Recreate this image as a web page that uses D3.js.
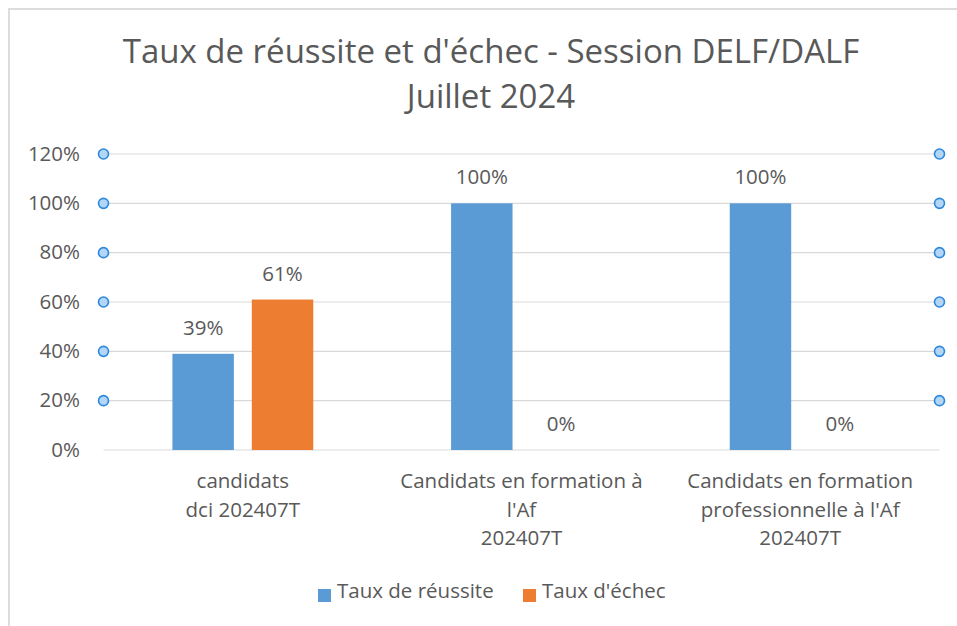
<!DOCTYPE html>
<html>
<head>
    <title>Taux de réussite et d'échec</title>
    <script src="https://d3js.org/d3.v7.min.js"></script>
    <style>
        body {
            margin: 0;
            background: #fff;
            font-family: "Open Sans", Arial, sans-serif;
        }
        .grid line {
            stroke: #d9d9d9;
            stroke-width: 1.2px;
        }
        .handle {
            fill: #b4d6f6;
            stroke: #2c87de;
            stroke-width: 1.6px;
        }
        text {
            fill: #595959;
        }
    </style>
</head>
<body>
    <div id="chart"></div>
    <script>
        // data
        const categories = ["g1", "g2", "g3"];
        const categoryLines = [
            ["candidats", "dci 202407T"],
            ["Candidats en formation à", "l'Af", "202407T"],
            ["Candidats en formation", "professionnelle à l'Af", "202407T"]
        ];
        const seriesNames = ["Taux de réussite", "Taux d'échec"];
        const seriesColors = ["#5b9bd5", "#ed7d31"];
        const reussite = [0.39, 1.00, 1.00];
        const echec = [0.61, 0.00, 0.00];
        const yTicks = [0, 0.2, 0.4, 0.6, 0.8, 1.0, 1.2];

        const width = 957, height = 626;
        const fontSize = "20.5px";

        const svg = d3.select("#chart")
            .append("svg")
            .attr("width", width)
            .attr("height", height);

        // outer frame of the chart object
        svg.append("rect")
            .attr("x", 9).attr("y", 9)
            .attr("width", 960).attr("height", 630)
            .attr("fill", "none")
            .attr("stroke", "#dcdcdc")
            .attr("stroke-width", 2);

        // title
        const title = svg.append("text")
            .attr("text-anchor", "middle")
            .style("font-size", "33px");
        title.append("tspan").attr("x", 491).attr("y", 63)
            .text("Taux de réussite et d'échec - Session DELF/DALF");
        title.append("tspan").attr("x", 491).attr("y", 108)
            .text("Juillet 2024");

        const plot = { left: 103.5, right: 939.5, top: 154, bottom: 450 };

        const x0 = d3.scaleBand()
            .domain(categories)
            .range([plot.left, plot.right]);

        const x1 = d3.scaleBand()
            .domain(seriesNames)
            .range([0, x0.bandwidth()])
            .paddingInner(0.226)
            .paddingOuter(0.868);

        const y = d3.scaleLinear()
            .domain([0, 1.2])
            .range([plot.bottom, plot.top]);

        // gridlines
        svg.append("g")
            .attr("class", "grid")
            .selectAll("line")
            .data(yTicks)
            .join("line")
            .attr("x1", plot.left)
            .attr("x2", plot.right)
            .attr("y1", d => y(d))
            .attr("y2", d => y(d));

        // y axis labels
        svg.append("g")
            .selectAll("text")
            .data(yTicks)
            .join("text")
            .attr("x", 80)
            .attr("y", d => y(d))
            .attr("dy", "0.33em")
            .attr("text-anchor", "end")
            .style("font-size", fontSize)
            .text(d => d3.format(".0%")(d));

        // bars
        const rows = categories.map((c, i) => ({
            cat: c,
            values: [
                { name: seriesNames[0], value: reussite[i], color: seriesColors[0] },
                { name: seriesNames[1], value: echec[i], color: seriesColors[1] }
            ]
        }));

        const group = svg.append("g")
            .selectAll("g")
            .data(rows)
            .join("g")
            .attr("transform", d => `translate(${x0(d.cat)},0)`);

        group.selectAll("rect")
            .data(d => d.values)
            .join("rect")
            .attr("x", d => x1(d.name))
            .attr("y", d => y(d.value))
            .attr("width", x1.bandwidth())
            .attr("height", d => y(0) - y(d.value))
            .attr("fill", d => d.color);

        // data labels
        group.selectAll("text")
            .data(d => d.values)
            .join("text")
            .attr("x", d => x1(d.name) + x1.bandwidth() / 2)
            .attr("y", d => y(d.value) - 19)
            .attr("text-anchor", "middle")
            .style("font-size", fontSize)
            .text(d => d3.format(".0%")(d.value));

        // selection handles at the ends of gridlines
        const handleTicks = yTicks.filter(d => d > 0);
        svg.append("g")
            .selectAll("circle")
            .data(handleTicks.flatMap(t => [[plot.left, t], [plot.right, t]]))
            .join("circle")
            .attr("class", "handle")
            .attr("cx", d => d[0])
            .attr("cy", d => y(d[1]))
            .attr("r", 5);

        // category labels
        const catLabel = svg.append("g")
            .selectAll("text")
            .data(categories)
            .join("text")
            .attr("text-anchor", "middle")
            .style("font-size", fontSize);

        catLabel.each(function(d, i) {
            const cx = x0(d) + x0.bandwidth() / 2;
            d3.select(this).selectAll("tspan")
                .data(categoryLines[i])
                .join("tspan")
                .attr("x", cx)
                .attr("y", (l, j) => 488 + j * 28.5)
                .text(l => l);
        });

        // legend
        const legendX = [318, 523];
        const legend = svg.append("g")
            .selectAll("g")
            .data(seriesNames)
            .join("g")
            .attr("transform", (d, i) => `translate(${legendX[i]},0)`);

        legend.append("rect")
            .attr("y", 589)
            .attr("width", 13)
            .attr("height", 13)
            .attr("fill", (d, i) => seriesColors[i]);

        legend.append("text")
            .attr("x", 19)
            .attr("y", 598)
            .style("font-size", fontSize)
            .text(d => d);
    </script>
</body>
</html>
